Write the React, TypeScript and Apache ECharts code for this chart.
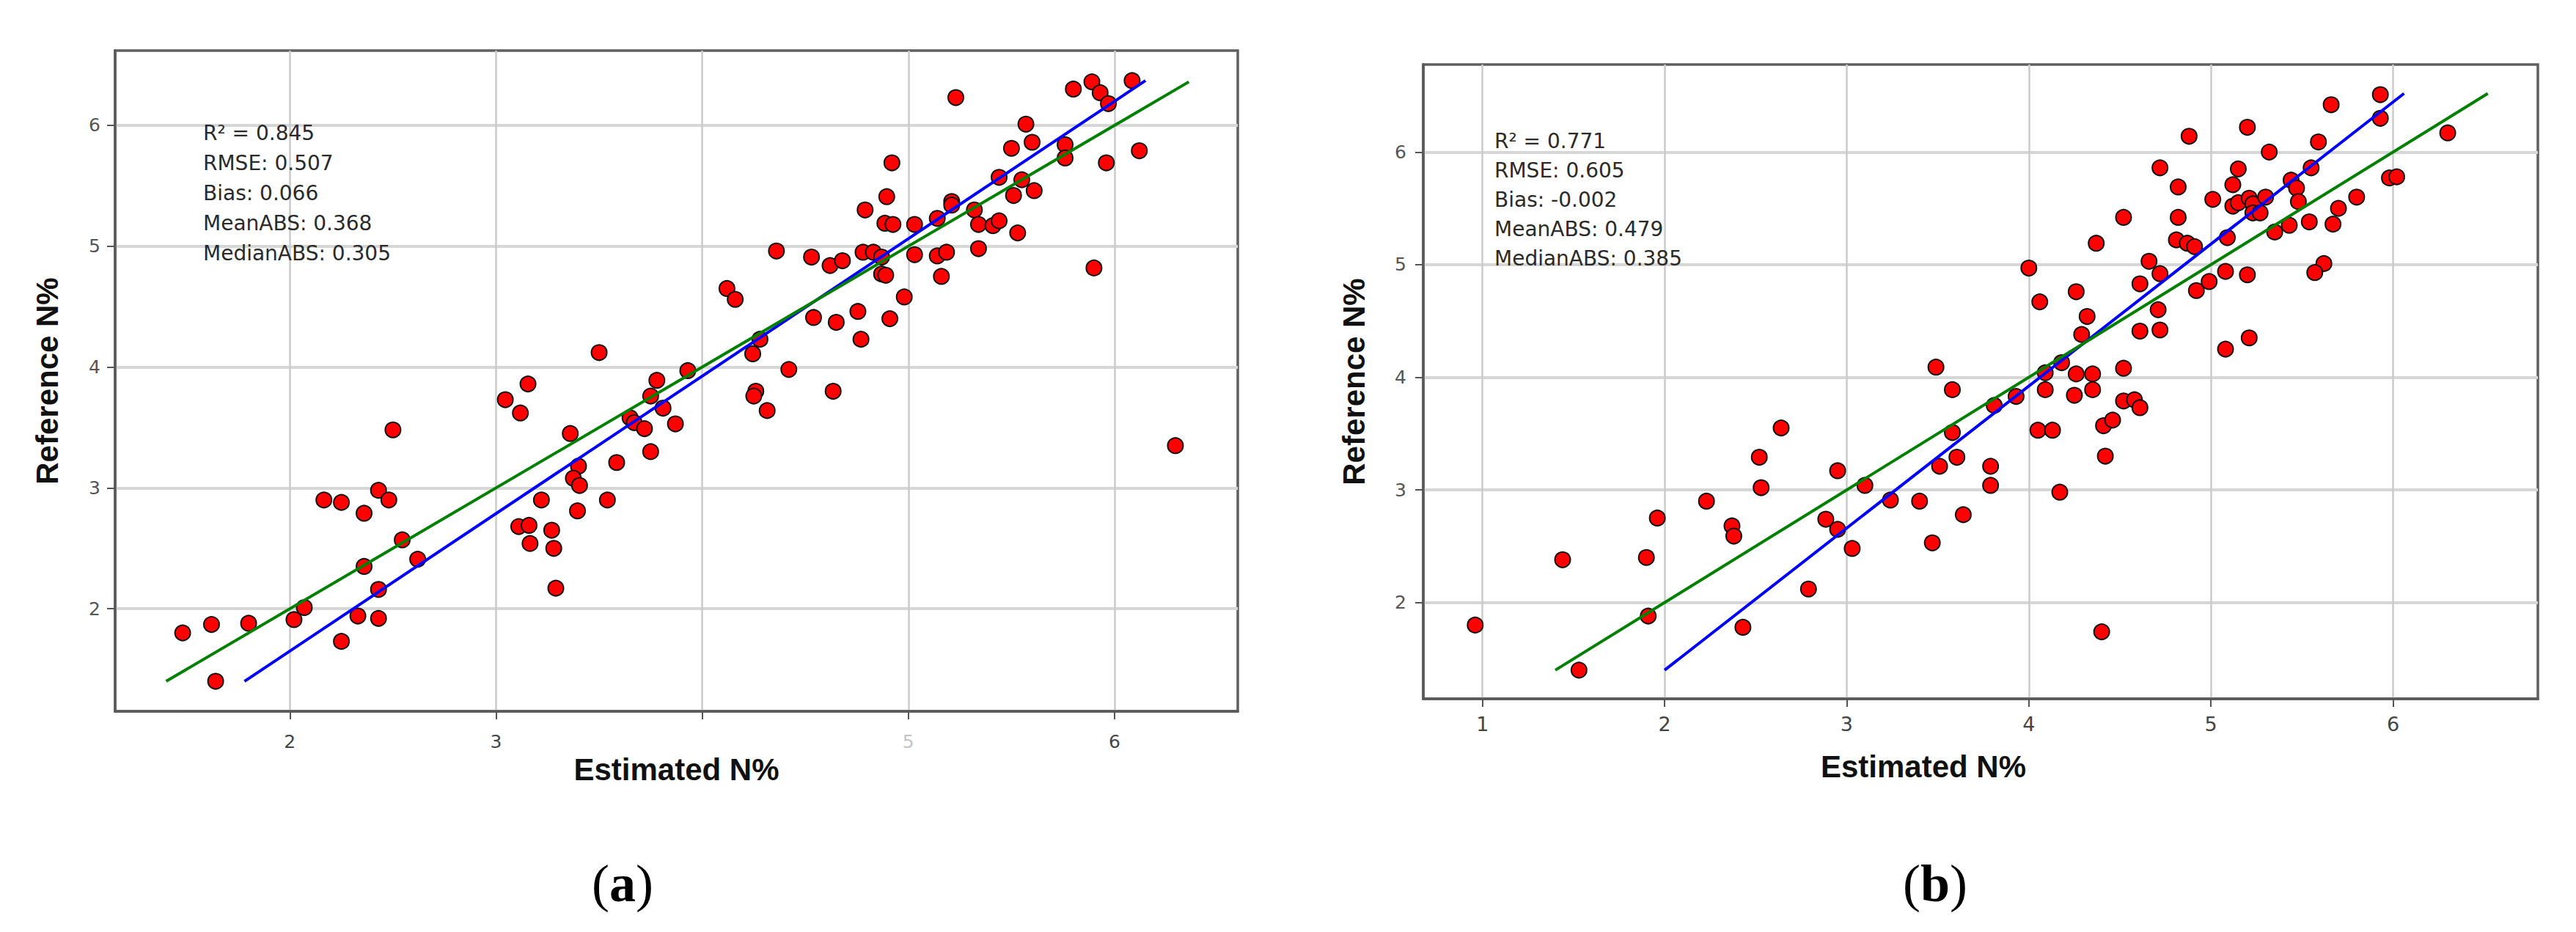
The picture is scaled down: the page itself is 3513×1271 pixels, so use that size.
import React, { useEffect, useRef } from "react";
import * as echarts from "echarts";

// ---------- Panel (a) data ----------
const estA = [
  5.23, 5.8, 5.89, 5.93, 5.97, 6.085, 5.57, 5.6, 5.5, 5.76, 5.76, 5.96, 6.12, 4.92, 5.44, 5.55, 5.61, 5.51,
  4.895, 5.21, 5.21, 4.79, 4.886, 4.925, 5.03, 5.14, 5.32, 5.34, 5.41, 5.44, 5.53, 4.36, 4.53, 4.62, 4.68,
  4.78, 4.83, 4.87, 5.03, 5.14, 5.185, 5.34, 5.9, 4.87, 4.89, 5.16, 4.12, 4.16, 4.98, 4.54, 4.65, 4.755,
  4.91, 4.77, 4.28, 4.245, 4.42, 3.93, 4.26, 4.25, 4.635, 4.315, 6.295, 3.5, 3.155, 3.045, 3.118, 3.78,
  3.75, 3.81, 3.87, 3.65, 3.67, 3.72, 3.36, 3.75, 3.585, 3.4, 3.375, 3.405, 3.22, 3.54, 3.395, 3.11, 3.16,
  3.27, 3.165, 3.28, 3.29, 2.5, 2.165, 2.25, 2.43, 2.48, 2.36, 2.545, 2.36, 2.62, 2.43, 2.07, 2.02, 2.33,
  2.43, 2.25, 1.48, 1.62, 1.8, 1.64,
];
const refA = [
  6.23, 6.3, 6.36, 6.27, 6.18, 6.37, 6.01, 5.86, 5.81, 5.84, 5.73, 5.69, 5.79, 5.69, 5.57, 5.55, 5.46, 5.42,
  5.41, 5.37, 5.34, 5.3, 5.19, 5.18, 5.18, 5.23, 5.3, 5.18, 5.17, 5.21, 5.11, 4.96, 4.91, 4.84, 4.88,
  4.95, 4.95, 4.91, 4.93, 4.92, 4.95, 4.98, 4.82, 4.77, 4.76, 4.75, 4.65, 4.56, 4.58, 4.41, 4.37, 4.46,
  4.4, 4.23, 4.23, 4.11, 3.98, 3.97, 3.8, 3.76, 3.8, 3.64, 3.35, 4.12, 3.86, 3.73, 3.62, 3.89,
  3.76, 3.66, 3.53, 3.58, 3.54, 3.49, 3.45, 3.3, 3.21, 3.18, 3.08, 3.02, 2.9, 2.9, 2.81, 2.68, 2.69,
  2.65, 2.54, 2.5, 2.17, 3.48, 2.9, 2.88, 2.98, 2.9, 2.79, 2.57, 2.35, 2.41, 2.16, 2.01, 1.91, 1.94,
  1.92, 1.73, 1.8, 1.87, 1.88, 1.4,
];
const greenAx = [1.4, 6.36];
const greenAy = [1.4, 6.36];
const blueAx = [1.78, 6.15];
const blueAy = [1.4, 6.37];
const statsA = ["R² = 0.845", "RMSE: 0.507", "Bias: 0.066", "MeanABS: 0.368", "MedianABS: 0.305"];

// ---------- Panel (b) data ----------
const estB = [
  5.93, 5.66, 5.93, 5.2, 4.88, 6.3, 5.59, 5.32, 4.72, 5.15, 5.55, 5.12, 5.44, 5.47, 5.98, 6.02, 4.82, 5.01,
  5.12, 5.15, 5.21, 5.23, 5.3, 5.23, 5.27, 5.48, 5.8, 5.7, 4.52, 4.82, 5.54, 5.67, 5.43, 5.35, 4.37, 4.81,
  4.87, 4.91, 5.09, 4.0, 4.66, 4.72, 4.61, 4.26, 4.06, 5.08, 5.2, 5.62, 5.57, 4.99, 4.92, 4.32, 4.71, 4.29,
  4.61, 4.72, 5.08, 5.21, 4.18, 4.09, 4.26, 4.35, 4.52, 4.09, 3.93, 3.81, 4.25, 4.35, 4.52, 4.58, 4.61,
  4.41, 4.46, 4.05, 4.13, 4.42, 3.79, 3.79, 4.17, 4.4, 3.49, 3.58, 3.58, 3.605, 3.51, 3.64, 3.47, 3.4,
  3.24, 3.1, 2.95, 2.885, 2.95, 3.03, 2.79, 2.64, 2.52, 2.53, 2.23, 2.37, 2.38, 1.96, 1.9, 1.44, 1.91,
  2.43, 0.96, 1.53,
];
const refB = [
  6.51, 6.42, 6.3, 6.22, 6.14, 6.17, 6.09, 6.0, 5.86, 5.85, 5.86, 5.71, 5.75, 5.68, 5.77, 5.78, 5.69, 5.58,
  5.52, 5.55, 5.59, 5.54, 5.6, 5.46, 5.46, 5.56, 5.6, 5.5, 5.42, 5.42, 5.38, 5.36, 5.35, 5.29, 5.19, 5.22,
  5.19, 5.16, 5.24, 4.97, 5.03, 4.92, 4.83, 4.76, 4.67, 4.94, 4.91, 5.01, 4.93, 4.85, 4.77, 4.54, 4.6, 4.38,
  4.41, 4.42, 4.25, 4.35, 4.13, 4.04, 4.03, 4.03, 4.08, 3.89, 3.83, 3.75, 3.84, 3.89, 3.79, 3.8, 3.73,
  3.57, 3.62, 3.53, 3.53, 3.3, 3.21, 3.04, 2.98, 1.74, 4.09, 3.89, 3.51, 3.29, 3.21, 2.78, 2.53, 2.9,
  2.91, 3.04, 3.17, 2.74, 2.65, 2.48, 2.12, 3.55, 3.29, 3.02, 2.9, 2.68, 2.59, 2.75, 2.4, 2.38, 1.88,
  1.78, 1.8, 1.4,
];
const greenBx = [1.4, 6.52];
const greenBy = [1.4, 6.52];
const blueBx = [2.0, 6.06];
const blueBy = [1.4, 6.52];
const statsB = ["R² = 0.771", "RMSE: 0.605", "Bias: -0.002", "MeanABS: 0.479", "MedianABS: 0.385"];

// ---------- Axes ----------
const yTicks = [2, 3, 4, 5, 6];
const yTickLabels = ["2", "3", "4", "5", "6"];
const xTicksA = [2, 3, 4, 5, 6];
const xTickLabelsA = ["2", "3", "", "5", "6"];
const xTicksB = [1, 2, 3, 4, 5, 6];
const xTickLabelsB = ["1", "2", "3", "4", "5", "6"];
const xTitle = "Estimated N%";
const yTitle = "Reference N%";
const captions = ["a", "b"];

const pairs = (xs: number[], ys: number[]) => xs.map((x, i) => [x, ys[i]]);

const TICK_FONT = "DejaVu Sans";
const TITLE_FONT = "Liberation Sans, Arial, sans-serif";

function xAxisCfg(gi: number, min: number, max: number, ticks: number[], labels: string[], size: number, margin: number, nameGap: number, namePad: number[]) {
  return {
    type: "value",
    gridIndex: gi,
    min,
    max,
    name: xTitle,
    nameLocation: "middle",
    nameGap,
    nameTextStyle: { fontFamily: TITLE_FONT, fontWeight: "bold", fontSize: 42, color: "#111", padding: namePad },
    axisLine: { show: true, onZero: false, lineStyle: { color: "#5a5a5a", width: 3.5 } },
    axisTick: { show: true, inside: false, length: 11, customValues: ticks, lineStyle: { color: "#555", width: 2 } },
    axisLabel: {
      show: true,
      customValues: ticks,
      margin,
      fontFamily: TICK_FONT,
      fontSize: size,
      color: "#444",
      formatter: (v: number) => {
        const i = ticks.indexOf(Math.round(v));
        const s = i >= 0 ? labels[i] : "";
        return gi === 0 && s === "5" ? "{f|5}" : s;
      },
      rich: { f: { fontFamily: TICK_FONT, fontSize: size, color: "#c4c4c4" } },
    },
    splitLine: { show: true, lineStyle: { color: "#cbcbcb", width: 2.5 } },
  };
}

function yAxisCfg(gi: number, min: number, max: number, margin: number, nameGap: number) {
  return {
    type: "value",
    gridIndex: gi,
    min,
    max,
    name: yTitle,
    nameLocation: "middle",
    nameGap,
    nameTextStyle: { fontFamily: TITLE_FONT, fontWeight: "bold", fontSize: 42, color: "#111" },
    axisLine: { show: true, onZero: false, lineStyle: { color: "#5a5a5a", width: 3.5 } },
    axisTick: { show: true, inside: false, length: 11, customValues: yTicks, lineStyle: { color: "#555", width: 2 } },
    axisLabel: {
      show: true,
      customValues: yTicks,
      margin,
      fontFamily: TICK_FONT,
      fontSize: 25,
      color: "#555",
      formatter: (v: number) => {
        const i = yTicks.indexOf(Math.round(v));
        return i >= 0 ? yTickLabels[i] : "";
      },
    },
    splitLine: { show: true, lineStyle: { color: "#d6d6d6", width: 4 } },
  };
}

function scatterSeries(gi: number, xs: number[], ys: number[]) {
  return {
    type: "scatter",
    xAxisIndex: gi,
    yAxisIndex: gi,
    data: pairs(xs, ys),
    symbol: "circle",
    symbolSize: 21,
    itemStyle: { color: "#ff0000", borderColor: "#111", borderWidth: 2, opacity: 1 },
    z: 2,
  };
}

function lineSeries(gi: number, xs: number[], ys: number[], color: string) {
  return {
    type: "line",
    xAxisIndex: gi,
    yAxisIndex: gi,
    data: pairs(xs, ys),
    symbol: "none",
    lineStyle: { color, width: 4 },
    z: 3,
  };
}

function statsText(lines: string[], x: number, y: number, lh: number) {
  return {
    type: "text",
    x,
    y,
    z: 10,
    style: {
      text: lines.join("\n"),
      fontFamily: TICK_FONT,
      fontSize: 28,
      lineHeight: lh,
      fill: "#2a2a2a",
      align: "left",
      verticalAlign: "top",
    },
  };
}

function captionText(letter: string, x: number, y: number) {
  return {
    type: "text",
    x,
    y,
    z: 10,
    style: {
      text: `{r|(}{b|${letter}}{r|)}`,
      align: "center",
      verticalAlign: "middle",
      rich: {
        r: { fontFamily: "Liberation Serif, Times New Roman, serif", fontSize: 72, fill: "#000", color: "#000" },
        b: { fontFamily: "Liberation Serif, Times New Roman, serif", fontSize: 72, fontWeight: "bold", fill: "#000", color: "#000" },
      },
    },
  };
}

export default function App() {
  const ref = useRef<HTMLDivElement>(null);
  useEffect(() => {
    if (!ref.current) return;
    const chart = echarts.init(ref.current, undefined, { renderer: "svg" });
    const option: any = {
      animation: false,
      backgroundColor: "#ffffff",
      grid: [
        { left: 157, top: 69, width: 1531, height: 901, show: true, borderColor: "#5f5f5f", borderWidth: 3.5, backgroundColor: "#fff", containLabel: false, outerBoundsMode: "none" },
        { left: 1941, top: 88, width: 1520, height: 865, show: true, borderColor: "#5f5f5f", borderWidth: 3.5, backgroundColor: "#fff", containLabel: false, outerBoundsMode: "none" },
      ],
      xAxis: [
        xAxisCfg(0, 1.1525, 6.5975, xTicksA, xTickLabelsA, 25, 29, 54, [0, 0, 0, 0]),
        xAxisCfg(1, 0.675, 6.795, xTicksB, xTickLabelsB, 27, 21, 71, [0, 156, 0, 0]),
      ],
      yAxis: [yAxisCfg(0, 1.1515, 6.6185, 20, 72), yAxisCfg(1, 1.145, 6.777, 23, 74)],
      series: [
        scatterSeries(0, estA, refA),
        lineSeries(0, blueAx, blueAy, "#0000ff"),
        lineSeries(0, greenAx, greenAy, "#008000"),
        scatterSeries(1, estB, refB),
        lineSeries(1, blueBx, blueBy, "#0000ff"),
        lineSeries(1, greenBx, greenBy, "#008000"),
      ],
      graphic: [
        statsText(statsA, 277, 161, 41),
        statsText(statsB, 2038, 172, 40),
        captionText(captions[0], 849, 1205),
        captionText(captions[1], 2639, 1205),
      ],
    };
    chart.setOption(option);
    return () => chart.dispose();
  }, []);
  return (
    <div
      ref={ref}
      style={{ position: "fixed", left: 0, top: 0, width: "3513px", height: "1271px", background: "#fff" }}
    />
  );
}
